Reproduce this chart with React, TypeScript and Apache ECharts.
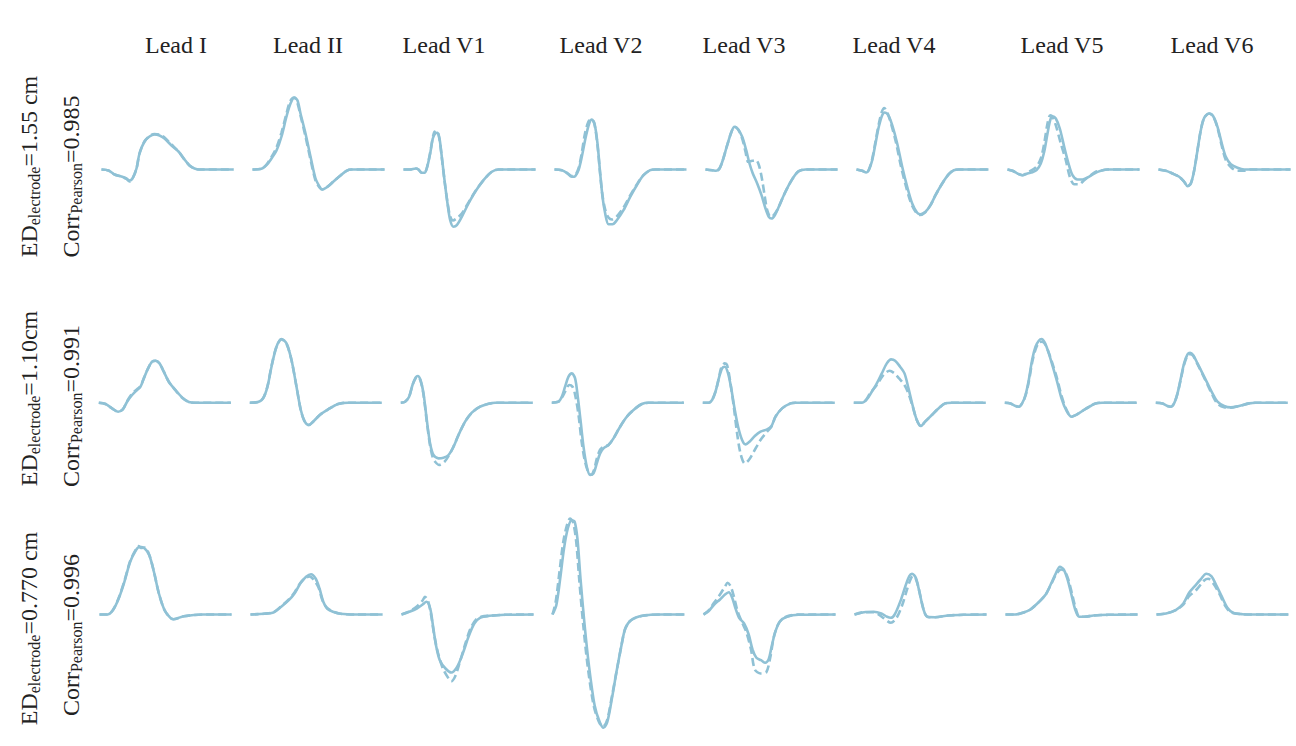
import React, { useEffect, useRef } from "react";
import * as echarts from "echarts";

// ---- Labels ----
const LEADS = ["Lead I", "Lead II", "Lead V1", "Lead V2", "Lead V3", "Lead V4", "Lead V5", "Lead V6"];
const ROW_ED = ["1.55 cm", "1.10cm", "0.770 cm"];
const ROW_CORR = ["0.985", "0.991", "0.996"];

// ---- Data: [time index, amplitude (a.u.)] ----
// Row 1 (ED 1.55 cm)
const R1_I_S = [[0,0],[7,-1],[13,-5],[20,-7],[25,-9],[28,-11],[31,-9],[35,1],[38,16],[43,28],[48,33],[53,35],[58,34],[63,31],[70,24],[77,18],[83,10],[88,4],[93,1],[98,0],[132,0]];
const R1_I_D = [[0,0],[7,-1],[13,-5],[20,-7],[25,-9.5],[28,-12],[31,-9],[35,1],[38,16],[43,28],[48,33.5],[53,35.5],[58,35],[63,32],[70,25],[77,18],[83,10],[88,4],[93,1],[98,0],[132,0]];
const R1_II_S = [[0,0],[9,0.7],[14,4.3],[19,11],[24,19],[29,33],[34,53],[38,66],[42,72],[45,69],[48,56],[53,36],[58,13],[63,-9],[67,-17],[69.5,-20],[74,-18],[81,-12],[88,-6],[94,-1.3],[99,0],[132,0]];
const R1_II_D = [[0,0],[9,0.7],[14,5],[19,12.5],[24,22],[29,37],[34,56],[37.5,68],[41.5,72],[44.5,68],[48,54],[53,33],[58,10],[63,-11],[67,-18],[70,-20],[74,-18],[81,-12],[88,-6],[94,-1.3],[99,0],[132,0]];
const R1_V1_S = [[0,0],[7,0],[12,1],[15,0],[18,-3.3],[21,-3.3],[23.3,1],[26.7,16],[29.3,31],[31.7,36],[34,36.7],[36,31],[38.3,12.7],[41,-10.7],[44,-34],[46.7,-50.7],[50,-57.3],[53.3,-55.7],[58.3,-47.3],[65,-34],[71.7,-22.3],[80,-10.7],[88.3,-2.3],[95,0],[132,0]];
const R1_V1_D = [[0,0],[7,0],[12,1],[15,0],[18,-3],[21,-3],[23.3,1.5],[26.7,17],[29.3,32],[31,38],[32.5,35],[34,37],[36,30],[38.3,12],[41,-11],[44,-33],[46.7,-47],[49.5,-51],[53,-49],[58.3,-44],[65,-33],[71.7,-22],[80,-10.7],[88.3,-2.3],[95,0],[132,0]];
const R1_V2_S = [[0,0],[7.3,-0.7],[12.3,-3.3],[17.3,-7.3],[20.7,-6.7],[24,-0.7],[27.3,12.7],[31.3,32.7],[34.7,46],[37.3,50],[40,46],[43,26],[45.7,-4],[48,-27.3],[50.7,-44],[54,-54.7],[58,-54.7],[62.3,-50.7],[69,-40.7],[75.7,-27.3],[82.3,-15.7],[89,-5.7],[95.7,-0.7],[100.7,0],[132,0]];
const R1_V2_D = [[0,0],[7.3,-0.7],[12.3,-3.3],[17.3,-6.5],[20.7,-5.5],[24,1],[27,15],[30.5,36],[34,48],[37,50.5],[40,45],[43,24],[45.7,-5],[48,-26],[50.7,-40],[54,-48],[57.5,-50],[62.3,-47],[69,-38],[75.7,-26],[82.3,-15],[89,-5.7],[95.7,-0.7],[100.7,0],[132,0]];
const R1_V3_S = [[0,0],[6.7,-0.7],[10.7,-1.3],[14,1],[17.3,9.3],[21.7,24.3],[26,37.7],[29,42.7],[32.7,40],[36.7,32.7],[40.7,19.3],[44,6],[47.3,-4],[51.7,-14],[56,-25.7],[60,-39],[63.3,-47.3],[66,-49],[69.3,-45.7],[73.3,-37.3],[78.3,-25.7],[83.3,-15.7],[88.3,-7.3],[93.3,-1.7],[100,0],[132,0]];
const R1_V3_D = [[0,0],[6.7,-0.7],[10.7,-1.3],[14,1],[17.3,9.3],[21.7,24.3],[26,37.7],[29,42.7],[32.7,40],[36.7,31],[40,17.7],[42.7,7.7],[46.7,8.7],[50.5,9.3],[53.5,4],[56.7,-10.7],[59.3,-27.3],[61.7,-40.7],[65,-47.3],[67.3,-46.5],[69.5,-44],[73.3,-37.3],[78.3,-25.7],[83.3,-15.7],[88.3,-7.3],[93.3,-1.7],[100,0],[132,0]];
const R1_V4_S = [[0,0],[5.7,-1.3],[9.7,-3],[12.3,-0.7],[15.7,9.3],[19,26],[22.3,42.7],[25.7,54.3],[28.3,57],[31.7,54.3],[35.7,44.3],[40.7,26],[45.7,2.7],[50.7,-17.3],[55.7,-34],[60.7,-43.3],[64,-44.7],[69,-42.3],[74,-35.7],[79,-25.7],[85.7,-14],[92.3,-4.7],[97.3,-0.7],[102.3,0],[132,0]];
const R1_V4_D = [[0,0],[5.7,-1.3],[9.7,-3],[12.3,-0.3],[15.7,10.5],[19,28],[22.3,45.5],[25.3,57.5],[27.8,61.5],[30.5,58],[34.5,46],[39.5,27],[44.5,3],[49.5,-17],[54.7,-34],[60,-43.5],[63.5,-45.5],[68.5,-43],[74,-35.7],[79,-25.7],[85.7,-14],[92.3,-4.7],[97.3,-0.7],[102.3,0],[132,0]];
const R1_V5_S = [[0,0],[5,-1.3],[10,-4],[15,-5.7],[20,-4],[25,-2.7],[29,-0.7],[33.3,6],[36.7,17.7],[40,36],[42.7,49.3],[45,53.3],[48.3,51],[52.3,41],[56.7,22.7],[61,6],[65,-5.7],[70,-10],[75,-10],[80,-8],[86.7,-4],[93.3,-1.3],[100,0],[132,0]];
const R1_V5_D = [[0,0],[5,-1.3],[10,-4],[15,-5.7],[20,-3],[28.3,2],[33.3,11],[36.7,26],[40,46],[42.7,54.3],[45,52.7],[48.3,44.3],[53.3,26],[58.3,9.3],[62.3,-7.3],[66.7,-14.7],[71.7,-14.7],[76.7,-10.7],[83.3,-5.7],[88.3,-2.3],[95,-0.7],[100,0],[132,0]];
const R1_V6_S = [[0,0],[7.3,-1.3],[14,-4],[20.7,-7.3],[25.7,-12.3],[29,-16.7],[32.3,-14],[35.7,-0.7],[39,19.3],[42.3,39.3],[45.7,51.7],[50.7,56],[54.7,53.3],[59,42.7],[63.3,26],[67.3,12.7],[72.3,5.3],[79,1.7],[85.7,0],[132,0]];
const R1_V6_D = [[0,0],[7.3,-1.3],[14,-4],[20.7,-7.3],[25.7,-12.3],[29,-16.7],[32.3,-14],[35.7,-0.7],[39,19.3],[42.3,39.3],[45.7,51.7],[50.7,56],[54.7,53],[59,41.5],[63.3,23.5],[67.3,9.5],[72.3,2.5],[79,-1.3],[85.7,-1.3],[92.3,0],[132,0]];

// Row 2 (ED 1.10 cm)
const R2_I_S = [[0,0],[6.7,-1.3],[13.3,-5.7],[19.3,-9],[24,-6.7],[28.3,1],[33.3,7.7],[38.3,12.7],[41.7,16],[45,24.3],[49.3,34.3],[53.3,41],[56.7,42],[60.7,39.3],[65,31],[70,21],[76.7,12.7],[83.3,5.3],[90,0.7],[96.7,0],[132,0]];
const R2_I_D = [[0,0],[6.7,-1.3],[13.3,-5.7],[19.3,-9],[24,-6.7],[28.3,1.5],[33.3,9],[38.3,13.5],[41.7,16.5],[45,24.5],[49.3,34.3],[53.3,41],[56.7,42],[60.7,39.3],[65,31],[70,21],[76.7,12.3],[83.3,5],[90,0.7],[96.7,0],[132,0]];
const R2_II_S = [[0,0],[8.3,0.7],[13.3,4.3],[17.7,16],[21.7,36],[26.7,56],[31.7,63.7],[36.7,59.3],[41.7,42.7],[46.7,16],[51,-7.3],[55,-19],[59,-22.3],[63.3,-19],[70,-12.3],[78.3,-6.7],[88.3,-1.3],[98.3,0],[132,0]];
const R2_II_D = [[0,0],[8.3,0.7],[13.3,4.5],[17.7,16.5],[21.7,36.5],[26.7,56],[31.7,63.3],[36.7,59],[41.7,42.5],[46.7,16],[51,-7.5],[55,-19.3],[59,-22.3],[63.3,-19],[70,-12.3],[78.3,-6.7],[88.3,-1.3],[98.3,0],[132,0]];
const R2_V1_S = [[0,0],[4.3,1],[8.3,6],[11.7,17.7],[15,25.3],[17,26.7],[19.7,22.7],[22.7,9.3],[26,-17.3],[29.3,-40.7],[32.7,-52.3],[37.7,-55.7],[42.7,-55],[47.7,-52.3],[52.7,-44],[57.7,-32.3],[64.3,-19],[71,-10],[79.3,-4],[89.3,-0.7],[94.3,0],[132,0]];
const R2_V1_D = [[0,0],[4.3,1],[8.3,6],[11.7,17.7],[15,25],[17,26],[19.7,22],[22.7,8],[26,-19],[29.3,-43],[32,-55],[34.3,-59],[38.3,-62.3],[43.7,-59],[48,-53],[52.7,-44],[57.7,-32.3],[64.3,-19],[71,-10],[79.3,-4],[89.3,-0.7],[94.3,0],[132,0]];
const R2_V2_S = [[0,0],[6.7,1],[10,6],[13.3,16],[16.7,26],[20,29.3],[23.3,24.3],[26,5.7],[28.7,-17.3],[31.7,-44],[35,-64],[38.3,-72.3],[41.7,-70.7],[45,-60.7],[48.3,-50.7],[51.7,-45.7],[56.7,-42.3],[61.7,-35.7],[68.3,-24],[75,-14],[81.7,-7.3],[90,-1.3],[96.7,0],[132,0]];
const R2_V2_D = [[0,0],[6.7,1],[10,5],[13.3,11],[17.3,17.7],[20.7,16],[23.3,8],[26.7,-12],[29.7,-38],[33,-58],[36.7,-70],[39.3,-72],[42.3,-67],[45,-56],[48.3,-47],[51.7,-44],[56.7,-42.3],[61.7,-35.7],[68.3,-24],[75,-14],[81.7,-7.3],[90,-1.3],[96.7,0],[132,0]];
const R2_V3_S = [[0,0],[6,0],[9.3,2.7],[12.7,11],[16,24.3],[19.3,34.3],[22,36],[25.3,29.3],[28.7,12.7],[32,-7.3],[35.3,-24],[39.3,-37.3],[42.7,-41.7],[46.7,-39],[52,-33.3],[57.7,-29],[64.3,-26.7],[68.7,-23.3],[72.7,-14],[79.3,-5.7],[87.7,-0.7],[92.7,0],[132,0]];
const R2_V3_D = [[0,0],[6,0],[9.3,2.7],[12.7,11],[16,24],[17.7,32.7],[19.5,37],[22,39.3],[24.3,37.7],[27.7,19.3],[31,-4],[34.3,-30.7],[37.7,-50.7],[42,-60.7],[46,-57.3],[51,-49],[57.7,-37.3],[64.3,-29],[68.7,-24],[72.7,-14],[79.3,-5.7],[87.7,-0.7],[92.7,0],[132,0]];
const R2_V4_S = [[0,0],[8,0],[13,3.3],[18,11],[23,19.3],[28,29.3],[33,39.3],[37.3,43.3],[41.3,42],[46.3,36],[50.7,29.3],[54.7,14.3],[58.7,-2.3],[63,-17.3],[67,-23.3],[71.3,-19],[78,-12.3],[84.7,-5.7],[91.3,-0.7],[98,0],[132,0]];
const R2_V4_D = [[0,0],[8,0],[11.3,1.7],[16.3,9.3],[23,17.7],[29.7,27.7],[35.7,32],[40.7,29.3],[45.3,24.3],[50.7,17.7],[54.7,9],[58.7,-3.3],[63,-17.3],[67,-23.3],[71.3,-19],[78,-12.3],[84.7,-5.7],[91.3,-0.7],[98,0],[132,0]];
const R2_V5_S = [[0,0],[5.7,-0.7],[10.7,-3.3],[14,-4],[17.3,-0.7],[20.7,7.7],[24,22.7],[27.3,42.7],[30.7,56],[34,62],[36.7,63.7],[40,60],[44,49.3],[48,36],[52.3,21],[56.7,4.3],[61.3,-7.3],[66.7,-14],[72.3,-11.7],[79,-7.3],[85.7,-3.3],[90.7,-0.7],[97.3,0],[132,0]];
const R2_V5_D = [[0,0],[5.7,-0.7],[10.7,-3.3],[14,-4],[17.3,-0.7],[20.7,7],[24,21],[27.3,40],[30.7,53],[34,60],[36.7,61],[40,59],[44,50],[48,38],[52.3,24],[56.7,7],[61.3,-6],[66.7,-14],[72.3,-11.7],[79,-7.3],[85.7,-3.3],[90.7,-0.7],[97.3,0],[132,0]];
const R2_V6_S = [[0,0],[6.7,-0.7],[11.7,-3.3],[15,-4],[18.3,-0.7],[21.7,9.3],[25,24.3],[28.3,39.3],[31.7,48.3],[34.3,50],[37.3,47.7],[41.7,39.3],[46.7,29.3],[51.7,19.3],[56.7,9.3],[61.7,1],[68.3,-3.3],[75,-4.7],[83.3,-3.3],[93.3,-0.7],[100,0],[132,0]];
const R2_V6_D = [[0,0],[6.7,-0.7],[11.7,-3.3],[15,-4],[18.3,-0.7],[21.7,9],[25,23.5],[28.3,38],[31.7,47],[34.3,48.5],[37.3,47],[41.7,38.5],[46.7,28.5],[51.7,18],[56.7,7.5],[61.7,-1],[68.3,-4.5],[75,-5],[83.3,-3.3],[93.3,-0.7],[100,0],[132,0]];

// Row 3 (ED 0.770 cm)
const R3_I_S = [[0,0],[7.7,0],[13.4,4.3],[19.2,16],[24.9,32.7],[30.7,52.7],[36.4,64.3],[40.2,67.7],[45.2,66],[49.8,59.3],[54.4,42.7],[59.4,21],[65.1,4.3],[70.9,-3.3],[74,-4.7],[84.3,-1.7],[103.4,0],[132,0]];
const R3_I_D = [[0,0],[7.7,0],[13.4,4.5],[19.2,16.5],[24.9,33.5],[30.7,53.5],[36.4,65],[39,68.5],[41.5,66.5],[45.2,67],[49.8,59.5],[54.4,43],[59.4,21],[65.1,4.3],[70.9,-3.3],[74,-4.7],[84.3,-1.7],[103.4,0],[132,0]];
const R3_II_S = [[0,0],[13.4,0.7],[23,2],[30.7,7.7],[38.3,14.3],[44,21],[49.8,31],[55.6,37.7],[60.5,40.3],[65.1,36],[69,26],[72.8,12.7],[76.6,6],[82.4,2.7],[90,0.7],[105.4,0],[132,0]];
const R3_II_D = [[0,0],[13.4,0.7],[23,2.3],[30.7,8.3],[38.3,15],[44,22],[49.8,31.5],[55,36.5],[59,38],[63,35],[68,27],[72,14],[76.6,6.5],[82.4,3],[90,0.7],[105.4,0],[132,0]];
const R3_V1_S = [[0,0],[7.7,2.7],[15.3,6],[21.1,10],[24.9,12.7],[28.7,6],[31.4,-10.7],[34.5,-30.7],[38.3,-45.7],[44,-54],[49.8,-58],[55.6,-52.3],[61.3,-39],[67,-22.3],[72.8,-9],[78.5,-3.3],[88.1,-1.3],[103.4,-0.3],[132,0]];
const R3_V1_D = [[0,0],[7.7,3],[15.3,8],[21.1,14],[23.4,17.7],[26.4,14],[29.5,0],[32.6,-20],[36.4,-38],[41.4,-54],[47.1,-64],[49.8,-66.7],[53.6,-62],[58.2,-48],[63.6,-30],[69,-14],[74.7,-5],[80.5,-2],[88.1,-1.3],[103.4,-0.3],[132,0]];
const R3_V2_S = [[0,0],[3.8,9.3],[7.7,36],[11.5,66],[15.3,86],[19.2,94.3],[22.2,92.7],[24.9,76],[28,36],[31.8,-7.3],[36.4,-50.7],[42.1,-90.7],[47.1,-107.3],[51,-113.3],[54.8,-107.3],[59.4,-84],[64,-57.3],[69,-30.7],[72.8,-14],[78.5,-5.7],[90,-1.3],[109.2,0],[132,0]];
const R3_V2_D = [[0,0],[3.1,12],[6.9,42],[10.7,72],[14.6,90],[17.6,96],[20.7,92],[23.8,72],[26.8,34],[30.7,-10],[35.6,-55],[41.4,-92],[46.7,-108],[50.6,-112],[54.8,-105],[59.4,-82],[64,-57.3],[69,-30.7],[72.8,-14],[78.5,-5.7],[90,-1.3],[109.2,0],[132,0]];
const R3_V3_S = [[0,0],[5,3.3],[10.7,10],[16.5,15],[21.5,20],[25.3,22.3],[28.7,16.7],[31.8,6.7],[35.6,-3.3],[40.6,-9],[45.2,-20],[49,-35],[52.9,-43.3],[57.5,-45.7],[61.7,-48.3],[65.1,-45],[68.2,-31.7],[72,-16.7],[76.6,-6.7],[83.5,-2.3],[95,-0.3],[132,0]];
const R3_V3_D = [[0,0],[5,4],[10.7,12],[16.5,20],[21.5,28],[24.1,31.7],[27.2,28],[30.3,18.3],[34.1,3.3],[38.7,-8.3],[42.5,-16.7],[47.5,-35],[51.3,-55],[57.1,-59],[62.8,-57.7],[66.7,-43.3],[70.5,-21.7],[75.5,-8.3],[82,-2.5],[95,0],[132,0]];
const R3_V4_S = [[0,0],[9.6,2.3],[19.2,2.7],[26.8,1],[32.6,-2.3],[36.4,-3.3],[40.2,0],[45.9,13.3],[50.9,28.3],[54.8,38.3],[57.5,40.7],[61.3,36.7],[65.1,21.7],[69,5],[72.8,-2.3],[80.5,-2.7],[93.9,-1],[109.2,-0.3],[132,0]];
const R3_V4_D = [[0,0],[9.6,2.3],[19.2,2.3],[28.7,-3.3],[36.4,-8.3],[42.1,-3.3],[47.9,10],[52.5,25],[56.7,36.7],[59.4,38.3],[63.2,30],[67,13.3],[70.9,0],[74.7,-2.7],[80.5,-2.7],[93.9,-1],[109.2,-0.3],[132,0]];
const R3_V5_S = [[0,0],[9.6,0],[17.2,1.7],[24.9,5],[32.6,11.7],[40.2,20],[46,31.7],[50.6,41.7],[54.4,47.7],[58.2,45],[62.1,35],[65.9,20],[69.7,5],[73.6,-2.3],[78.5,-2.3],[88.1,-1],[103.4,-0.3],[132,0]];
const R3_V5_D = [[0,0],[9.6,0],[17.2,1.7],[24.9,5],[32.6,11.7],[40.2,20],[46,31],[50.6,40],[55.5,45],[59,43.5],[62.8,35],[66.7,20],[70.5,5],[74,-2.3],[78.5,-2.3],[88.1,-1],[103.4,-0.3],[132,0]];
const R3_V6_S = [[0,0],[9.6,1],[19.2,4.3],[26.8,11],[32.6,21.7],[38.3,28.3],[44.1,35],[49.8,40.7],[54.8,38.3],[60.2,28.3],[65.1,18.3],[70.9,6.7],[76.6,1.7],[86.2,0.3],[101.5,0],[132,0]];
const R3_V6_D = [[0,0],[9.6,1],[19.2,4.3],[26.8,10],[32.6,18.3],[40.2,25],[47.9,34.3],[51.7,35.7],[57.5,30],[63.2,20],[69,8.3],[74.7,2],[86.2,0.3],[101.5,0],[132,0]];

const SOLID = [
  [R1_I_S, R1_II_S, R1_V1_S, R1_V2_S, R1_V3_S, R1_V4_S, R1_V5_S, R1_V6_S],
  [R2_I_S, R2_II_S, R2_V1_S, R2_V2_S, R2_V3_S, R2_V4_S, R2_V5_S, R2_V6_S],
  [R3_I_S, R3_II_S, R3_V1_S, R3_V2_S, R3_V3_S, R3_V4_S, R3_V5_S, R3_V6_S],
];
const DASHED = [
  [R1_I_D, R1_II_D, R1_V1_D, R1_V2_D, R1_V3_D, R1_V4_D, R1_V5_D, R1_V6_D],
  [R2_I_D, R2_II_D, R2_V1_D, R2_V2_D, R2_V3_D, R2_V4_D, R2_V5_D, R2_V6_D],
  [R3_I_D, R3_II_D, R3_V1_D, R3_V2_D, R3_V3_D, R3_V4_D, R3_V5_D, R3_V6_D],
];

// ---- Layout / style ----
const W = 1296;
const H = 746;
const ROW_BASE = [169.5, 402.7, 614.5];
const ROW_LEFT = [101.5, 98.8, 99.5];
const COL_STEP = 151;
const PANEL_W = 132;
const Y_MIN = -130;
const Y_MAX = 120;
const LINE_COLOR = "#8fc1d5";
const TEXT_COLOR = "#222222";
const FONT = "'Liberation Serif', 'Times New Roman', serif";
const TITLE_X = [176, 308, 444, 601, 744, 894, 1062, 1212];
const ED_POS = [[29, 166.5], [29, 398.5], [29, 628.5]];
const CORR_POS = [[71, 176.5], [71, 406], [71, 635]];

function buildOption() {
  const grid: any[] = [];
  const xAxis: any[] = [];
  const yAxis: any[] = [];
  const series: any[] = [];
  for (let r = 0; r < 3; r++) {
    for (let c = 0; c < 8; c++) {
      const idx = r * 8 + c;
      grid.push({
        left: ROW_LEFT[r] + c * COL_STEP,
        width: PANEL_W,
        top: ROW_BASE[r] - Y_MAX,
        height: Y_MAX - Y_MIN,
        containLabel: false,
      });
      xAxis.push({ gridIndex: idx, type: "value", min: 0, max: 132, show: false });
      yAxis.push({ gridIndex: idx, type: "value", min: Y_MIN, max: Y_MAX, show: false });
      series.push({
        type: "line",
        xAxisIndex: idx,
        yAxisIndex: idx,
        data: SOLID[r][c],
        symbol: "none",
        smooth: 0.3,
        clip: false,
        lineStyle: { color: LINE_COLOR, width: 2.6, type: "solid" },
      });
      series.push({
        type: "line",
        xAxisIndex: idx,
        yAxisIndex: idx,
        data: DASHED[r][c],
        symbol: "none",
        smooth: 0.3,
        clip: false,
        lineStyle: { color: LINE_COLOR, width: 2.6, type: [8, 4] },
      });
    }
  }

  const graphic: any[] = [];
  LEADS.forEach((t, i) => {
    graphic.push({
      type: "text",
      x: TITLE_X[i],
      y: 45,
      style: {
        text: t,
        fill: TEXT_COLOR,
        font: `24px ${FONT}`,
        align: "center",
        verticalAlign: "middle",
      },
    });
  });
  const rich = {
    m: { fontSize: 24, fontFamily: FONT, fill: TEXT_COLOR, lineHeight: 26, verticalAlign: "middle" },
    s: { fontSize: 16, fontFamily: FONT, fill: TEXT_COLOR, lineHeight: 10, verticalAlign: "bottom" },
  };
  for (let r = 0; r < 3; r++) {
    graphic.push({
      type: "text",
      x: ED_POS[r][0],
      y: ED_POS[r][1],
      rotation: Math.PI / 2,
      style: {
        text: `{m|ED}{s|electrode}{m|=${ROW_ED[r]}}`,
        rich,
        fill: TEXT_COLOR,
        align: "center",
        verticalAlign: "middle",
      },
    });
    graphic.push({
      type: "text",
      x: CORR_POS[r][0],
      y: CORR_POS[r][1],
      rotation: Math.PI / 2,
      style: {
        text: `{m|Corr}{s|Pearson}{m|=${ROW_CORR[r]}}`,
        rich,
        fill: TEXT_COLOR,
        align: "center",
        verticalAlign: "middle",
      },
    });
  }

  return {
    animation: false,
    backgroundColor: "#ffffff",
    grid,
    xAxis,
    yAxis,
    series,
    graphic,
  };
}

export default function App() {
  const ref = useRef<HTMLDivElement>(null);
  useEffect(() => {
    if (!ref.current) return;
    const chart = echarts.init(ref.current, undefined, { renderer: "svg" });
    chart.setOption(buildOption());
    return () => chart.dispose();
  }, []);
  return (
    <div
      ref={ref}
      style={{ position: "absolute", left: 0, top: 0, width: W, height: H }}
    />
  );
}
